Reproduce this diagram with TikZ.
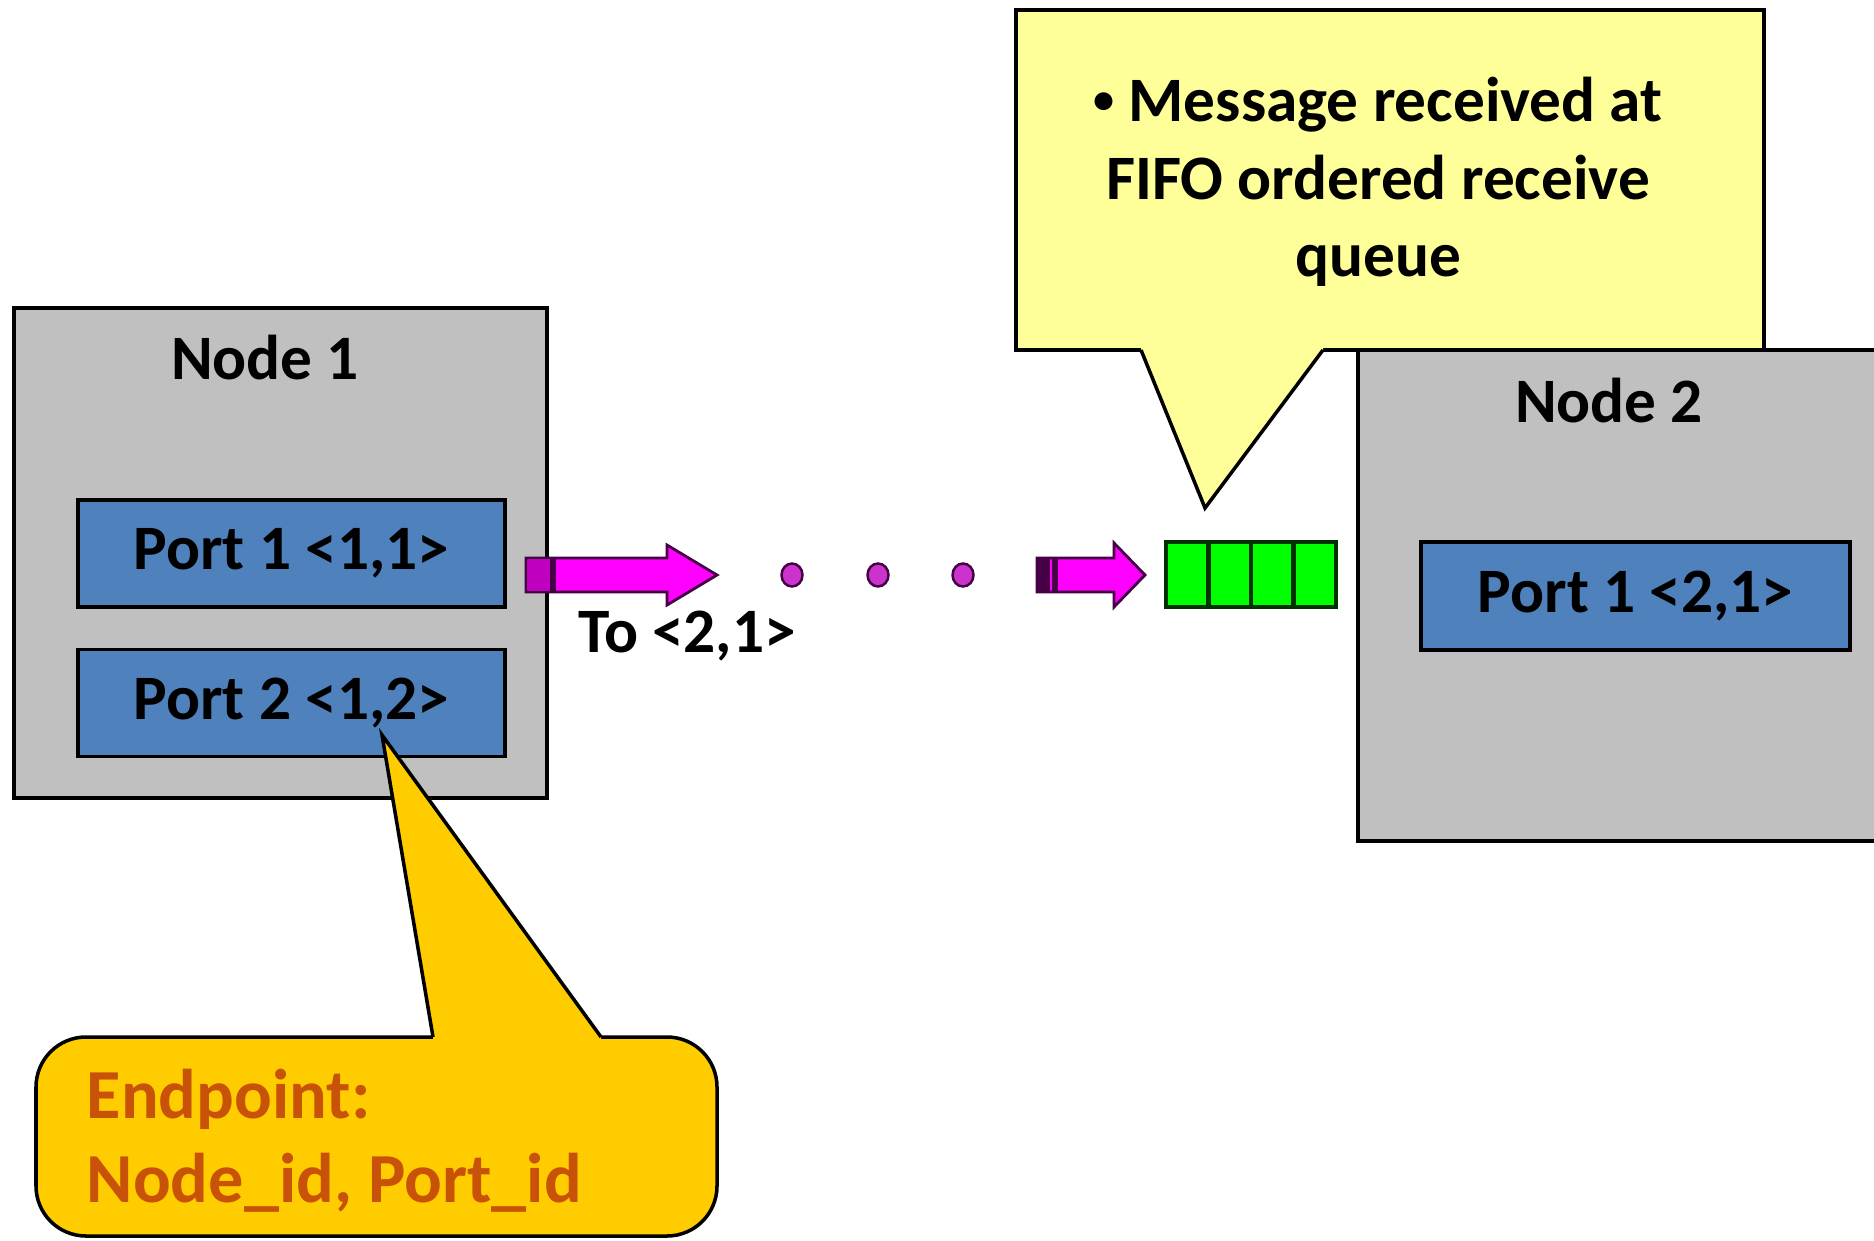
\documentclass[tikz,border=0pt]{standalone}
\usepackage{fontspec}
\setmainfont{Carlito}
\usepackage{tikz}

\definecolor{boxgray}{RGB}{192,192,192}
\definecolor{portblue}{RGB}{79,129,189}
\definecolor{noteyellow}{RGB}{255,255,153}
\definecolor{tagorange}{RGB}{255,204,0}
\definecolor{tagbrown}{RGB}{200,82,8}
\definecolor{msgpink}{RGB}{255,0,255}
\definecolor{msgdark}{RGB}{70,0,70}
\definecolor{dotpink}{RGB}{204,51,204}
\definecolor{qgreen}{RGB}{0,255,0}
\definecolor{qedge}{RGB}{0,50,0}

\tikzset{
	nodebox/.style={draw,line width=1pt,fill=boxgray,inner sep=0pt},
	nodetitle/.style={font=\fontsize{18}{22}\selectfont\bfseries},
	portbox/.style={draw,line width=1pt,fill=portblue,inner sep=0pt,
		minimum width=4.27cm,minimum height=1.07cm,font=\fontsize{18}{22}\selectfont\bfseries},
	qcell/.style={draw=qedge,line width=1.3pt,fill=qgreen,inner sep=0pt,
		minimum width=0.425cm,minimum height=0.65cm},
	msgarrow/.style={draw=msgdark,line width=0.8pt,fill=msgpink},
	msgdot/.style={draw=msgdark,line width=0.7pt,fill=dotpink},
	notebox/.style={draw,line width=1pt,fill=noteyellow},
	notetext/.style={align=center,inner sep=0pt,font=\fontsize{18}{22.1}\selectfont\bfseries},
	tagbox/.style={draw,line width=1pt,fill=tagorange,rounded corners=0.5cm},
	tagtext/.style={align=left,inner sep=0pt,text=tagbrown,font=\fontsize{20}{23.8}\selectfont\bfseries}
}
\newcommand{\smallbullet}{\raisebox{0.12em}{\fontsize{12}{12}\selectfont\textbullet}}

\begin{document}
\begin{tikzpicture}[x=0.01cm,y=-0.01cm]
\useasboundingbox (0,0) rectangle (1874,1240);
\clip (0,0) rectangle (1874,1240);
\fill[white] (0,0) rectangle (1874,1240);

%node 1
\node[nodebox,minimum width=5.33cm,minimum height=4.9cm] (n1) at (280.5,553) {};
\node[nodetitle] (n1t) at (265,358) {Node 1};
\node[portbox] (p11) at (291.5,553.5) {Port 1 <1,1>};
\node[portbox] (p12) at (291.5,703) {Port 2 <1,2>};

%node 2
\node[nodebox,minimum width=5.4cm,minimum height=4.91cm] (n2) at (1628,595.5) {};
\node[nodetitle] (n2t) at (1609,401) {Node 2};
\node[portbox,minimum width=4.29cm,minimum height=1.08cm] (p21) at (1635.5,596) {Port 1 <2,1>};

%receive queue
\foreach \i in {0,...,3}
	\node[qcell] (q\i) at ({1187.25+42.5*\i},574.5) {};

%message on its way
\draw[msgarrow] (526,558) -- (667,558) -- (667,545) -- (717,575) -- (667,605) -- (667,592) -- (526,592) -- cycle;
\fill[msgpink!75!black] (528,560) rectangle (552,590);
\draw[msgdark,line width=1.5pt] (553,558) -- (553,592);

\foreach \x in {792,878,963}
	\filldraw[msgdot] (\x,575) ellipse [x radius=10.5,y radius=11.5];

\draw[msgarrow] (1037,558) -- (1114,558) -- (1114,543) -- (1145,575) -- (1114,607) -- (1114,592) -- (1037,592) -- cycle;
\fill[msgdark] (1037,558) rectangle (1050,592);
\draw[msgdark,line width=1.5pt] (1055,558) -- (1055,592);

\node[nodetitle] (dest) at (687,636) {To <2,1>};

%callout at the queue
\node[notebox,minimum width=7.48cm,minimum height=3.4cm] (note) at (1390,180) {};
\fill[noteyellow] (1141,347) -- (1141,350) -- (1205,508) -- (1323,350) -- (1323,347) -- cycle;
\draw[line width=1pt] (1141,350) -- (1205,508) -- (1323,350);
\node[notetext] (notet) at (1378,182) {\smallbullet\ Message received at\\FIFO ordered receive\\queue};

%callout at port 2
\draw[tagbox] (36,1037) rectangle (717,1236);
\fill[tagorange] (433,1040) -- (433,1037) -- (382,735) -- (601,1037) -- (601,1040) -- cycle;
\draw[line width=1pt] (433,1037) -- (382,735) -- (601,1037);
\node[tagtext,anchor=west] (tagt) at (86,1141) {Endpoint:\\Node\_id, Port\_id};
\end{tikzpicture}
\end{document}
